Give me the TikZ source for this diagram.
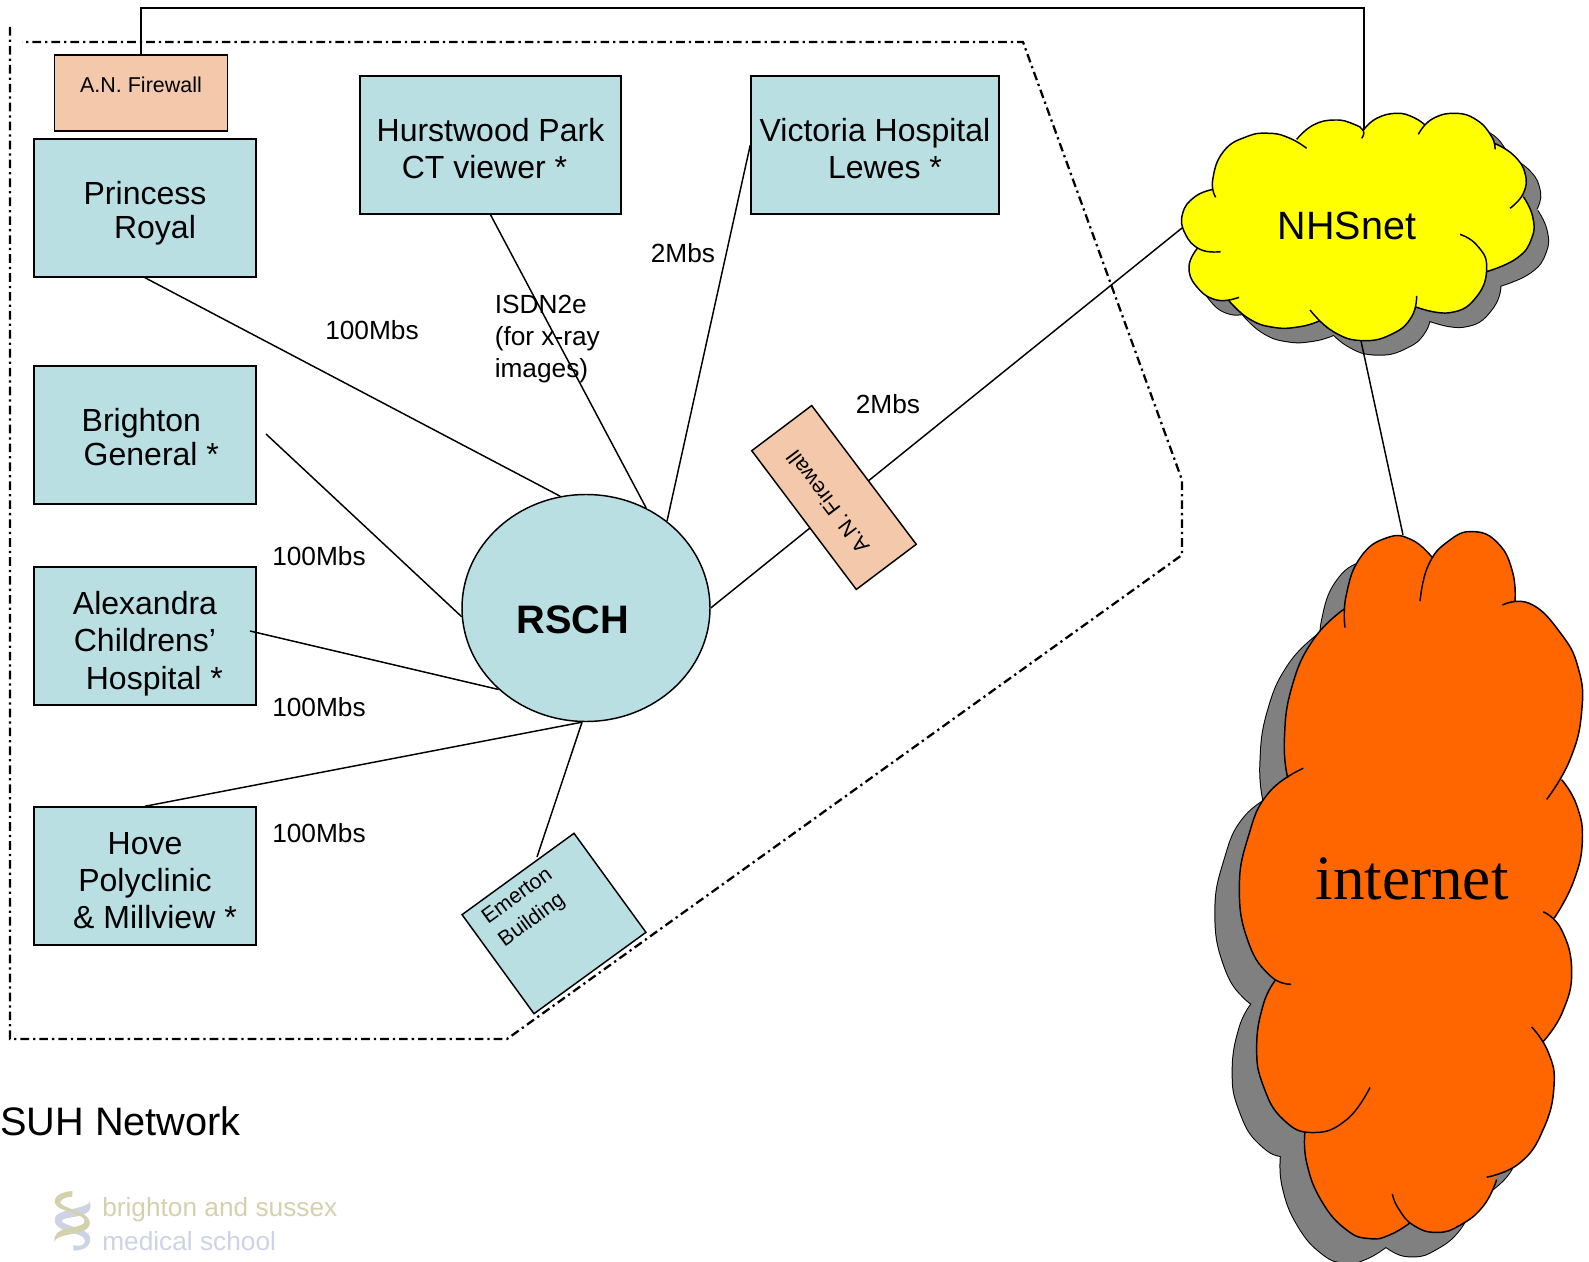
\documentclass[tikz,border=0pt]{standalone}
\usepackage{fontspec}
\setmainfont{Liberation Sans}
\newfontfamily\timesfont{Liberation Serif}
\usetikzlibrary{shapes.geometric}
\usetikzlibrary{positioning}

\definecolor{siteblue}{HTML}{B9DFE3}
\definecolor{wallpeach}{HTML}{F4C9AB}
\definecolor{cloudorange}{HTML}{FF6600}
\definecolor{cloudyellow}{HTML}{FFFF00}
\definecolor{cloudgrey}{HTML}{808080}
\definecolor{logokhaki}{HTML}{D3D1AE}
\definecolor{logoblue}{HTML}{CDD3E5}

\tikzset{
  sitebox/.style={draw,line width=1.1pt,fill=siteblue,inner sep=0pt,align=center,minimum width=166.5pt,minimum height=103.5pt,font=\fontsize{24}{28}\selectfont},
  wallbox/.style={draw,line width=1.1pt,fill=wallpeach,inner sep=0pt,text depth=12pt,font=\fontsize{16.1}{20}\selectfont},
  speedlabel/.style={inner sep=0pt,font=\fontsize{19.7}{24}\selectfont},
  link/.style={line width=1.1pt},
  boundary/.style={line width=1.7pt,dash pattern={on 6.5pt off 3pt on 1.7pt off 3pt}},
  lobe/.style={smooth,tension=.8}
}
\newcommand{\topgap}[1]{\rule{0pt}{#1}}

% lobes of the two clouds, clockwise, each one with its tail
\def\nhslobes{
  plot[lobe] coordinates {(167,322) (158,270) (190,185) (260,140) (330,130) (390,145) (440,175)}
  plot[lobe] coordinates {(410,148) (460,105) (525,90) (580,102) (610,122) (605,145)}
  plot[lobe] coordinates {(610,120) (650,85) (710,70) (760,82) (795,105)}
  plot[lobe] coordinates {(775,133) (815,88) (885,70) (950,90) (995,140) (1005,178)}
  plot[lobe] coordinates {(1003,160) (1060,195) (1095,250) (1090,310) (1050,355)}
  plot[lobe] coordinates {(1090,320) (1118,380) (1115,445) (1070,505) (980,545)}
  plot[lobe] coordinates {(900,433) (950,465) (980,530) (950,620) (870,668) (765,650)}
  plot[lobe] coordinates {(770,618) (755,680) (700,730) (610,752) (520,725) (450,660)}
  plot[lobe] coordinates {(480,692) (420,710) (340,712) (265,685) (205,630)}
  plot[lobe] coordinates {(237,622) (170,630) (110,590) (87,530) (112,475)}
  plot[lobe] coordinates {(182,485) (120,478) (75,430) (68,370) (105,320) (160,298)}
}
\def\nhscore{(160,298) -- (410,148) -- (610,120) -- (795,105) -- (1003,160) -- (1090,320) -- (980,545) -- (765,650) -- (480,692) -- (205,630) -- (112,475) -- cycle}
\def\netlobes{
  plot[lobe] coordinates {(465,245) (468,180) (510,100) (590,58) (665,62) (728,100)}
  plot[lobe] coordinates {(690,190) (715,115) (775,65) (850,45) (925,70) (968,130) (975,192)}
  plot[lobe] coordinates {(937,198) (1020,195) (1110,255) (1165,330) (1175,420) (1140,520) (1070,603)}
  plot[lobe] coordinates {(1115,562) (1160,615) (1177,690) (1150,775) (1093,850)}
  plot[lobe] coordinates {(1060,837) (1115,875) (1145,960) (1118,1045) (1060,1107)}
  plot[lobe] coordinates {(1025,1077) (1075,1130) (1092,1200) (1060,1290) (990,1360) (890,1390)}
  plot[lobe] coordinates {(920,1395) (880,1450) (810,1490) (740,1505) (670,1490) (625,1455) (607,1425)}
  plot[lobe] coordinates {(660,1485) (600,1510) (540,1518) (470,1500) (395,1440) (350,1360) (345,1295)}
  plot[lobe] coordinates {(540,1203) (470,1270) (370,1297) (280,1270) (220,1200) (200,1120) (220,1030) (258,978)}
  plot[lobe] coordinates {(303,988) (240,970) (175,900) (148,790) (175,680) (235,590) (340,538)}
  plot[lobe] coordinates {(293,558) (283,480) (305,370) (370,270) (465,205)}
}
\def\netcore{(465,205) -- (728,100) -- (975,192) -- (1115,560) -- (1093,850) -- (1060,1107) -- (920,1390) -- (660,1485) -- (345,1295) -- (258,978) -- (293,558) -- cycle}

\begin{document}
\begin{tikzpicture}[x=0.75pt,y=0.75pt,yscale=-1,xscale=1]
\useasboundingbox (0,0) rectangle (1589,1262);

%Network boundary
\draw [boundary] (10,27) -- (10,1039) -- (507,1039) -- (1182,555) -- (1182,480) -- (1023,42) -- (22,42);

%Sites
\node [sitebox,font=\fontsize{24}{25.5}\selectfont] (princess) at (145,208) {\topgap{25.5pt}Princess\\\hspace*{15pt}Royal};
\node [sitebox,minimum width=195.75pt] (hurstwood) at (490.5,145) {\topgap{23pt}Hurstwood Park\\CT viewer *\hspace*{9pt}};
\node [sitebox,minimum width=186pt] (victoria) at (875,145) {\topgap{23pt}Victoria Hospital\\\hspace*{15pt}Lewes *};
\node [sitebox,font=\fontsize{24}{25.5}\selectfont] (brighton) at (145,435) {\topgap{20.5pt}Brighton\hspace*{5.5pt}\\\hspace*{9.5pt}General *};
\node [sitebox] (alexandra) at (145,636) {\topgap{28.5pt}Alexandra\\Childrens’\\\hspace*{14pt}Hospital *};
\node [sitebox] (hove) at (145,876) {\topgap{23.5pt}Hove\\Polyclinic\\\hspace*{15pt}\& Millview *};
\node [ellipse,draw,line width=1.1pt,fill=siteblue,minimum width=186pt,minimum height=170.25pt,inner sep=0pt] (RSCH) at (586,608) {};
\node [inner sep=0pt,font=\fontsize{29.8}{32}\selectfont\bfseries] (rschlabel) at (573,620) {RSCH};

%Free ends
\coordinate (brightonend) at (266,434);
\coordinate (alexandraend) at (250,631);
\coordinate (emertontop) at (537,857);
\coordinate (nhsleft) at (1182,228);
\coordinate (nhstop) at (1364,130);
\coordinate (nhsbottom) at (1361,341);
\coordinate (nettop) at (1403,535);
\coordinate (toprail) at (1364,8);

%Links to RSCH
\draw [link] (princess.south) -- (RSCH.103);
\draw [link] (hurstwood.south) -- (RSCH.59);
\draw [link] (victoria.west) -- (RSCH.47);
\draw [link] (brightonend) -- (RSCH.184);
\draw [link] (alexandraend) -- (RSCH.223);
\draw [link] (hove.north) -- (RSCH.268);
\draw [link] (RSCH.268) -- (emertontop);
\draw [link] (RSCH.east) -- (nhsleft);

%Rotated boxes
\node [draw,line width=1.1pt,fill=siteblue,rotate=36,minimum width=103.8pt,minimum height=91.8pt,inner sep=0pt] (emerton) at (554,923.5) {};
\node [rotate=36,inner sep=0pt,align=left,font=\fontsize{16}{21}\selectfont] (emertonlabel) at (526,908) {Emerton\\Building};
\node [wallbox,rotate=127,minimum width=130.3pt,minimum height=56.3pt] (dmzwall) at (834,497.5) {A.N. Firewall};
\node [wallbox,minimum width=130pt,minimum height=57pt] (anwall) at (141,93) {A.N. Firewall};

%NHSnet cloud
\begin{scope}[shift={(1160,90)},x=0.25pt,y=0.25pt]
  \begin{scope}[shift={(42,42)}]
    \draw [line width=1.5pt] \nhslobes;
    \fill [cloudgrey,nonzero rule] \nhscore \nhslobes;
  \end{scope}
  \fill [cloudyellow,nonzero rule] \nhscore \nhslobes;
  \draw [line width=1.1pt] \nhslobes;
\end{scope}
\node [anchor=base,inner sep=0pt,font=\fontsize{29.6}{32}\selectfont] (nhsnet) at (1347,240) {NHSnet};

%internet cloud
\begin{scope}[shift={(1190,510)},x=0.25pt,y=0.36pt]
  \begin{scope}[shift={(-72,50)}]
    \draw [line width=1.5pt] \netlobes;
    \fill [cloudgrey,nonzero rule] \netcore \netlobes;
  \end{scope}
  \fill [cloudorange,nonzero rule] \netcore \netlobes;
  \draw [line width=1.1pt] \netlobes;
\end{scope}
\node [anchor=base,inner sep=0pt,font=\fontsize{47.4}{50}\selectfont\timesfont] (internet) at (1412,899) {internet};

%Links to the clouds
\draw [link] (anwall.north) |- (toprail) -- (nhstop);
\draw [link] (nhsbottom) -- (nettop);

%Speeds
\node [speedlabel] (speedprincess) at (372,330) {100Mbs};
\node [speedlabel] (speedbrighton) at (319,556) {100Mbs};
\node [speedlabel] (speedalexandra) at (319,707) {100Mbs};
\node [speedlabel] (speedhove) at (319,833) {100Mbs};
\node [speedlabel] (speedvictoria) at (683,253) {2Mbs};
\node [speedlabel] (speednhs) at (888,404) {2Mbs};
\node [speedlabel,anchor=west,align=left] (speedisdn) at (494.5,339) {ISDN2e\\(for x-ray\\images)};

%Title
\node [anchor=west,inner sep=0pt,font=\fontsize{29.8}{32}\selectfont] (title) at (0,1121) {SUH Network};

%Logo
\begin{scope}[shift={(45,1180)},x=0.25pt,y=0.25pt]
  \fill [logoblue] (135,65) .. controls (125,85) and (60,85) .. (35,105) .. controls (20,125) and (35,145) .. (70,155) .. controls (105,165) and (125,170) .. (118,190) .. controls (110,200) and (95,198) .. (85,195) -- (85,212) .. controls (120,212) and (140,195) .. (135,170) .. controls (125,145) and (70,140) .. (50,125) .. controls (45,110) and (110,115) .. (130,95) .. controls (138,85) and (138,75) .. (135,65) -- cycle;
  \fill [logokhaki] (82,33) .. controls (45,36) and (25,50) .. (30,70) .. controls (40,95) and (100,95) .. (118,118) .. controls (125,135) and (95,140) .. (65,145) .. controls (40,152) and (25,165) .. (28,185) .. controls (35,165) and (80,165) .. (110,155) .. controls (135,145) and (140,130) .. (130,115) .. controls (110,90) and (55,85) .. (45,68) .. controls (50,55) and (65,50) .. (82,50) -- cycle;
\end{scope}
\node [anchor=base west,inner sep=0pt,text=logokhaki,font=\fontsize{19.7}{24}\selectfont] (logotop) at (102,1216) {brighton and sussex};
\node [anchor=base west,inner sep=0pt,text=logoblue,font=\fontsize{19.7}{24}\selectfont] (logobottom) at (102,1250) {medical school};

\end{tikzpicture}
\end{document}
